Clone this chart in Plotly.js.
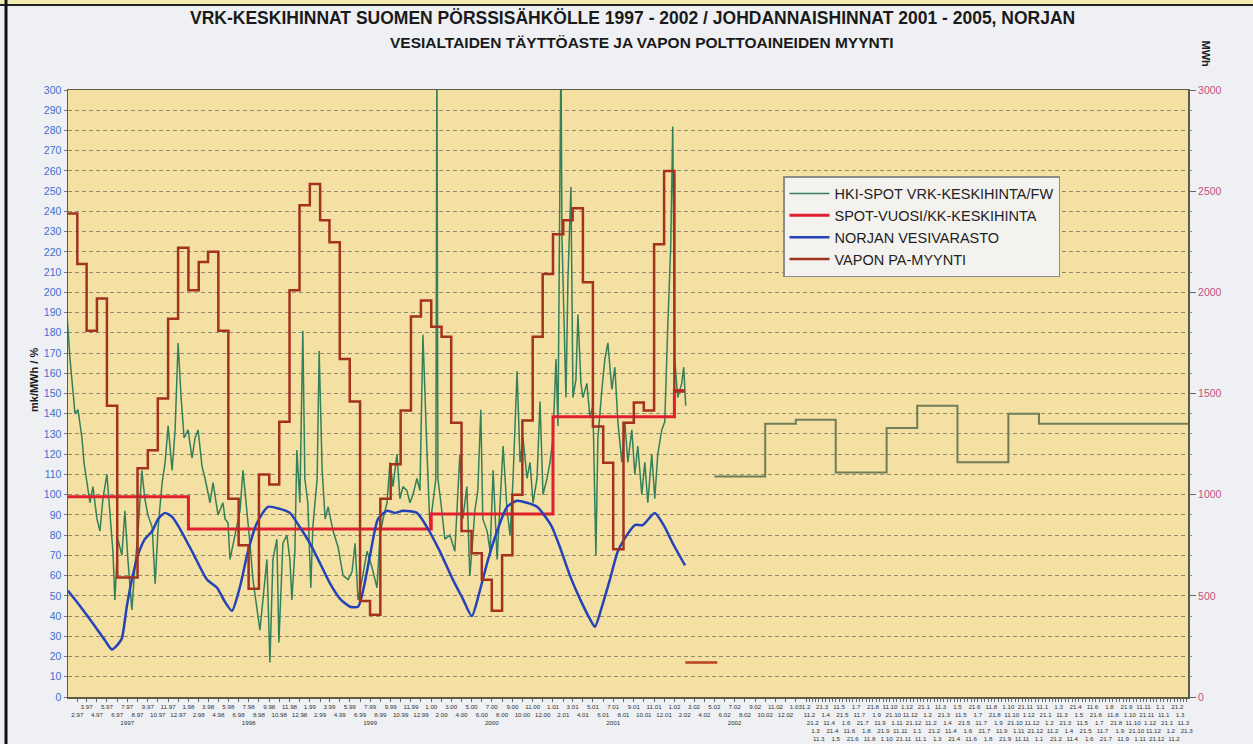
<!DOCTYPE html>
<html><head><meta charset="utf-8">
<script src="https://cdn.plot.ly/plotly-3.0.1.min.js"></script>
<style>html,body{margin:0;padding:0;background:#eef0f4;}#chart{width:1253px;height:744px;}</style>
</head><body><div id="chart"></div>
<script>
// ---- DATA ----
// x positions are day offsets from 1997-01-01
const spotDays = [0,9,18,24,33,45,51,60,69,78,90,99,108,120,129,138,144,153,165,174,183,195,204,213,225,234,243,256,265,274,286,295,304,316,325,334,343,352,364,376,385,394,406,415,430,439,454,469,475,484,490,505,520,529,541,550,559,571,580,589,601,610,619,631,637,649,661,670,676,685,691,700,709,715,724,733,739,752,758,767,776,785,800,815,830,845,857,866,875,887,902,917,932,941,950,962,971,980,992,1001,1010,1022,1031,1040,1052,1061,1070,1082,1091,1100,1109,1112,1115,1124,1136,1151,1166,1181,1190,1202,1211,1220,1226,1235,1244,1250,1263,1272,1281,1293,1302,1311,1323,1332,1341,1353,1362,1371,1383,1392,1401,1413,1422,1431,1443,1452,1461,1470,1476,1485,1488,1500,1506,1515,1521,1530,1536,1545,1551,1563,1572,1581,1590,1596,1608,1617,1626,1638,1647,1656,1668,1677,1686,1698,1707,1716,1728,1737,1746,1758,1767,1776,1788,1797,1806,1815,1821,1827,1836,1848,1854,1860];
const spotPrice = [189,167,151,140,142,128,116,106,96,104,88,82,98,110,92,72,48,78,70,92,68,43,64,80,112,98,90,84,56,84,106,116,134,112,132,175,148,128,132,118,128,132,114,108,96,106,90,96,88,86,68,80,92,112,92,76,58,45,33,48,68,17,68,78,27,76,80,68,48,72,122,96,181,108,96,54,84,108,171,112,88,94,82,74,60,58,62,76,48,58,72,64,54,80,88,96,116,104,120,98,104,102,96,100,108,102,179,122,84,96,108,320,108,96,78,80,72,120,88,104,60,78,92,102,142,88,82,72,112,68,98,124,92,80,108,161,116,128,108,116,96,108,146,100,108,116,128,167,134,320,227,148,207,252,148,157,189,155,148,155,138,144,70,128,152,167,175,152,163,136,116,136,116,132,110,124,100,116,96,120,98,120,132,136,183,223,282,167,148,155,163,144];

// Forward prices (HKI-SPOT /FW part), period start dates and values
const fwStart = ['2002-05-01','2002-10-01','2003-01-01','2003-05-01','2003-10-01','2004-01-01','2004-05-01','2004-10-01','2005-01-01'];
const fwEnd = '2006-03-25';
const fwPrice = [109,135,137,111,133,144,116,140,135];

// Spot year average
const avgStart = ['1997-01-01','1998-01-01','1999-01-01','2000-01-01','2001-01-01','2002-01-01'];
const avgEnd = '2002-01-31';
const avgPrice = [99,83,83,90.5,138.5,151.5];

// Norway reservoir level (%)
const resDays = [3,39,84,114,135,153,165,180,195,213,234,256,274,295,316,340,379,421,451,475,496,520,544,571,604,640,670,700,730,761,791,821,851,875,890,911,935,962,986,1010,1052,1082,1121,1160,1190,1217,1241,1266,1293,1323,1353,1383,1413,1443,1458,1482,1512,1542,1572,1587,1608,1632,1656,1683,1707,1731,1767,1797,1821,1858];
const resPct = [52.5,45,35,28,23.5,26,29,45,58,70,78,82,88,91,89,83,71,58,54,47,42.6,54.5,72,86,94,93,91,84,76,66,56,48.5,44.6,44.6,52.5,70,88,92,91,92,91,84,72,58,48.5,40,52.5,68,82,94,97,96,94,88,84,74,60,48.5,38.6,34.7,44.6,58,72,80,85,85,91,84,76,65];

// Vapon fuel sales, monthly MWh from Jan 1997
const vaponStartYear = 1997;
const vaponMWh = [2390,2140,1810,1970,1440,590,590,1130,1220,1475,1870,2220,
  2010,2150,2200,1810,980,750,535,1100,1050,1360,2010,2430,
  2535,2356,2248,1670,1460,475,406,980,1150,1416,1880,1960,
  1830,1780,1356,820,710,580,426,700,1000,1366,1780,2090,
  2287,2356,2416,2050,1337,1158,730,1356,1455,1416,2238,2600,
  1510];
const vaponLate = {start:'2002-02-03', end:'2002-05-10', value:170};

const tickYears = [1997,1998,1999,2000,2001,2002,2003,2004,2005,2006];
const denseDays = [1,11,21];

// ---- helpers ----
const base = Date.UTC(1997,0,1);
const dayToDate = d => new Date(base + d*864e5).toISOString().slice(0,10);
const pad = n => String(n).padStart(2,'0');
function stepXY(starts, end, vals){ return {x: starts.concat([end]), y: vals.concat([vals[vals.length-1]])}; }
const monthDate = i => (vaponStartYear+Math.floor(i/12))+'-'+pad(i%12+1)+'-01';
const vaponX = vaponMWh.map((v,i)=>monthDate(i));
const vap = stepXY(vaponX, monthDate(vaponMWh.length), vaponMWh);
const fw = stepXY(fwStart, fwEnd, fwPrice);
const avg = stepXY(avgStart, avgEnd, avgPrice);

// x tick labels (dense rows, as in the original)
const tv=[], tt=[];
let k=0;
tickYears.forEach(y=>{
  const yy = String(y).slice(2);
  for(let m=1;m<=12;m++){
    if(y<2003 || (y===2003 && m===1)){
      tv.push(y+'-'+pad(m)+'-01');
      tt.push(m%2 ? (m+'.'+yy+(m===7?'<br><br>'+y:'')) : '<br>'+m+'.'+yy);
    } else if(y<2006 || m<4){
      for(const d of denseDays){
        tv.push(y+'-'+pad(m)+'-'+pad(d));
        tt.push('<br>'.repeat(k%5)+d+'.'+m);
        k++;
      }
    }
  }
});

const traces = [
  {x: spotDays.map(dayToDate), y: spotPrice, name:'HKI-SPOT VRK-KESKIHINTA/FW', mode:'lines',
   line:{color:'#33805a', width:1.5}, legendgroup:'a'},
  {x: fw.x, y: fw.y, mode:'lines', line:{color:'#6f7d58', width:2, shape:'hv'}, showlegend:false, legendgroup:'a'},
  {x: avg.x, y: avg.y, name:'SPOT-VUOSI/KK-KESKIHINTA', mode:'lines', line:{color:'#e0202e', width:3, shape:'hv'}, legendgroup:'b'},
  {x: resDays.map(dayToDate), y: resPct, name:'NORJAN VESIVARASTO', mode:'lines', line:{color:'#2443b8', width:2.5, shape:'spline', smoothing:0.6}, legendgroup:'c'},
  {x: vap.x, y: vap.y, name:'VAPON PA-MYYNTI', mode:'lines', yaxis:'y2', line:{color:'#a3321f', width:2.5, shape:'hv'}, legendgroup:'d'},
  {x: [vaponLate.start, vaponLate.end], y:[vaponLate.value, vaponLate.value], mode:'lines', yaxis:'y2', line:{color:'#b8401f', width:2.5}, showlegend:false, legendgroup:'d'}
];

const L=68, T=90, W=1120, H=607;
const px = x => (x-L)/W, py = y => 1-(y-T)/H;
const narrow = 'Liberation Sans Narrow, Arial Narrow, sans-serif';

const layout = {
  width:1253, height:744,
  margin:{l:L, r:1253-L-W, t:T, b:744-T-H},
  paper_bgcolor:'#eef0f4', plot_bgcolor:'#f4e0a2',
  font:{family:'Liberation Sans, Arial, sans-serif', color:'#222'},
  showlegend:true,
  legend:{x:px(783), y:py(176), xanchor:'left', yanchor:'top', bgcolor:'#f4f2ef', bordercolor:'#8c8c8c', borderwidth:1.5,
          font:{size:14.5, color:'#222', family:'Liberation Sans, Arial, sans-serif'}, itemwidth:40, tracegroupgap:0, traceorder:'normal'},
  xaxis:{type:'date', range:['1997-01-04','2006-03-25'], tickmode:'array', tickvals:tv, ticktext:tt, tickangle:0,
         tickfont:{size:6.2, color:'#333', family:narrow}, ticks:'outside', ticklen:3, tickcolor:'#666',
         showgrid:false, showline:true, mirror:true, linecolor:'#5d5a45', linewidth:1.5, zeroline:false, fixedrange:true},
  yaxis:{range:[0,300], dtick:10, tick0:0, showgrid:true, gridcolor:'#8f8a6a', griddash:'4px,3px', gridwidth:1,
         tickfont:{size:10.5, color:'#3d6fd0', family:narrow}, ticks:'outside', ticklen:3, tickcolor:'#777',
         showline:true, mirror:true, linecolor:'#5d5a45', linewidth:1.5, zeroline:false},
  yaxis2:{overlaying:'y', side:'right', range:[0,3000], dtick:500, showgrid:false, zeroline:false,
          tickfont:{size:10.5, color:'#c4507e', family:narrow}, ticks:'outside', ticklen:7, tickcolor:'#666',
          minor:{dtick:100, ticks:'outside', ticklen:3, tickcolor:'#888'}, showline:false},
  annotations:[
    {text:'<b>VRK-KESKIHINNAT SUOMEN PÖRSSISÄHKÖLLE 1997 - 2002 / JOHDANNAISHINNAT 2001 - 2005, NORJAN</b>', xref:'paper', yref:'paper',
     x:px(632), y:py(18), xanchor:'center', yanchor:'middle', showarrow:false, font:{size:17.5, color:'#1a1a1a', family:narrow}},
    {text:'<b>VESIALTAIDEN TÄYTTÖASTE JA VAPON POLTTOAINEIDEN MYYNTI</b>', xref:'paper', yref:'paper',
     x:px(642), y:py(42), xanchor:'center', yanchor:'middle', showarrow:false, font:{size:15.5, color:'#1a1a1a', family:narrow}},
    {text:'<b>mk/MWh / %</b>', xref:'paper', yref:'paper', x:px(26), y:py(380), textangle:-90, showarrow:false,
     font:{size:11, color:'#1a1a1a'}},
    {text:'<b>MWh</b>', xref:'paper', yref:'paper', x:px(1213), y:py(38), textangle:90, showarrow:false,
     font:{size:11, color:'#1a1a1a'}}
  ],
  shapes:[
    {type:'rect', xref:'paper', yref:'paper', x0:px(0), x1:px(1253), y0:py(0), y1:py(4), fillcolor:'#f2ecb0', line:{width:0}, layer:'below'},
    {type:'line', xref:'paper', yref:'paper', x0:px(0), x1:px(1253), y0:py(5), y1:py(5), line:{color:'#222', width:2}},
    {type:'line', xref:'paper', yref:'paper', x0:px(6), x1:px(6), y0:py(0), y1:py(744), line:{color:'#111', width:3}}
  ]
};

Plotly.newPlot('chart', traces, layout, {displayModeBar:false, staticPlot:true});
</script></body></html>
